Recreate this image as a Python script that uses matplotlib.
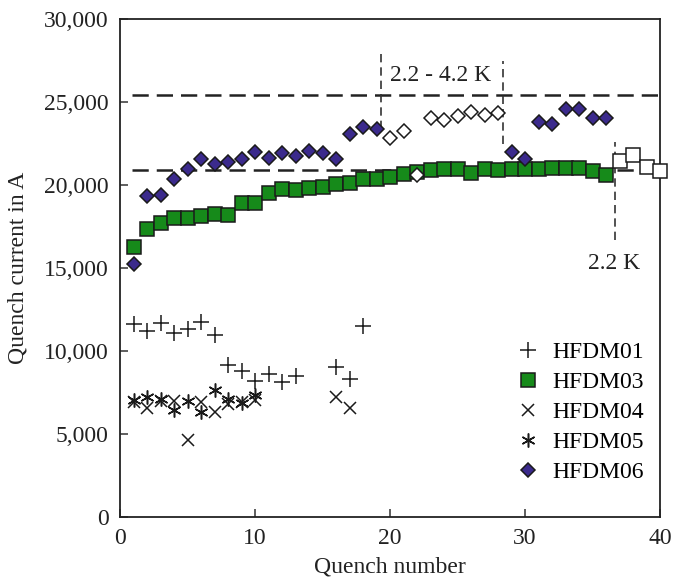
import matplotlib
matplotlib.use("Agg")
import matplotlib.pyplot as plt
from matplotlib.ticker import FuncFormatter

plt.rcParams['font.family'] = ['Liberation Serif', 'DejaVu Serif']
plt.rcParams['font.size'] = 17

# quench currents per magnet (A)
x_01 = [1, 2, 3, 4, 5, 6, 7, 8, 9, 10, 11, 12, 13, 16, 17, 18]
i_01 = [11630, 11220, 11670, 11070, 11330, 11730, 10960, 9160, 8800, 8210,
        8610, 8150, 8490, 9060, 8310, 11500]

x_03 = list(range(1, 37))
i_03 = [16250, 17330, 17730, 17990, 18010, 18130, 18250, 18210, 18900, 18930,
        19540, 19760, 19700, 19840, 19900, 20060, 20140, 20340, 20360, 20500,
        20660, 20800, 20880, 20960, 20960, 20740, 20960, 20900, 20940, 20960,
        20980, 21040, 21000, 21000, 20820, 20620]
x_03_open = [37, 38, 39, 40]
i_03_open = [21470, 21800, 21100, 20840]

x_04 = [1, 2, 3, 4, 5, 6, 7, 8, 9, 10, 16, 17]
i_04 = [6900, 6550, 7000, 7000, 4640, 6950, 6350, 6800, 6950, 7050, 7210, 6550]

x_05 = [1, 2, 3, 4, 5, 6, 7, 8, 9, 10]
i_05 = [7050, 7250, 7090, 6450, 7000, 6350, 7650, 7090, 6850, 7350]

x_06 = list(range(1, 20)) + list(range(29, 37))
i_06 = [15220, 19340, 19400, 20340, 20940, 21550, 21270, 21400, 21550, 21970,
        21650, 21910, 21750, 22070, 21900, 21550, 23070, 23470, 23350,
        21970, 21570, 23810, 23700, 24560, 24560, 24060, 24060]
x_06_open = list(range(20, 29))
i_06_open = [22810, 23250, 20600, 24050, 23920, 24160, 24420, 24220, 24360]

# reference levels and temperature boundaries
level_hi = 25400
level_lo = 20900
bounds_hi = [19.3, 28.4]
bound_lo = 36.7

green = '#168a1a'
purple = '#3b2a8c'
edge = '#1a1a1a'

fig = plt.figure(figsize=(6.75, 5.78), dpi=100)
ax = fig.add_axes([0.1778, 0.1055, 0.8, 0.8616])

ax.hlines([level_hi, level_lo], 0.9, 40, colors='#222222', linestyles=(0, (6.5, 3.2)),
          linewidth=1.8, zorder=1)
ax.vlines(bounds_hi[0], 23400, 27900, colors='#333333', linestyles=(0, (5, 3)),
          linewidth=1.2, zorder=1)
ax.vlines(bounds_hi[1], 22500, 27500, colors='#333333', linestyles=(0, (5, 3)),
          linewidth=1.2, zorder=1)
ax.vlines(bound_lo, 16700, 22600, colors='#333333', linestyles=(0, (5, 3)),
          linewidth=1.2, zorder=1)

ax.plot(x_01, i_01, ls='none', marker='+', ms=11, mew=1.1, color=edge, label='HFDM01')
ax.plot(x_03, i_03, ls='none', marker='s', ms=9.5, mfc=green, mec=edge, mew=1.1,
        label='HFDM03', zorder=3)
ax.plot(x_03_open, i_03_open, ls='none', marker='s', ms=9.5, mfc='white', mec=edge,
        mew=1.1, zorder=3, clip_on=False)
ax.plot(x_04, i_04, ls='none', marker='x', ms=9, mew=1.1, color=edge, label='HFDM04')
ax.plot(x_05, i_05, ls='none', marker=(6, 2, 0), ms=10, mew=1.1, color=edge,
        label='HFDM05')
ax.plot(x_06, i_06, ls='none', marker='D', ms=7.5, mfc=purple, mec=edge, mew=1.1,
        label='HFDM06', zorder=4)
ax.plot(x_06_open, i_06_open, ls='none', marker='D', ms=7.5, mfc='white', mec=edge,
        mew=1.1, zorder=4)

ax.text(20.0, 26600, '2.2 - 4.2 K', va='center', ha='left', color='#222222')
ax.text(34.7, 15300, '2.2 K', va='center', ha='left', color='#222222')

ax.set_xlim(0, 40)
ax.set_ylim(0, 30000)
ax.set_xticks([0, 10, 20, 30, 40])
ax.set_yticks(range(0, 30001, 5000))
ax.yaxis.set_major_formatter(FuncFormatter(lambda v, p: f'{int(v):,}'))
ax.tick_params(direction='in', length=6, width=1.1, pad=8, color='#333333',
               labelcolor='#222222')
for s in ax.spines.values():
    s.set_linewidth(1.3)
    s.set_color('#222222')

ax.set_xlabel('Quench number', color='#222222', labelpad=5)
ax.set_ylabel('Quench current in A', color='#222222', labelpad=11)

ax.legend(loc='lower right', bbox_to_anchor=(1.0, 0.035), frameon=False,
          handlelength=1.0, handletextpad=0.5, labelspacing=0.36, borderaxespad=0.3)

fig.savefig('out.png', dpi=100)
